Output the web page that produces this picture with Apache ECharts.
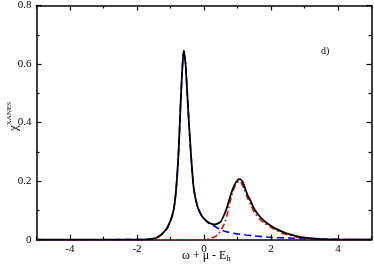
<!DOCTYPE html>
<html>
<head>
<meta charset="utf-8">
<script src="https://cdn.jsdelivr.net/npm/echarts@6/dist/echarts.min.js"></script>
<style>html,body{margin:0;padding:0;background:#fff}#c{width:374px;height:267px}</style>
</head>
<body>
<div id="c"></div>
<script>
// ---- data ----
var totalX = [-5, -3, -2, -1.7, -1.5, -1.4, -1.3, -1.2, -1.1, -1.0, -0.95, -0.9, -0.85, -0.8, -0.75, -0.7, -0.65, -0.62, -0.6, -0.58, -0.55, -0.5, -0.45, -0.4, -0.35, -0.3, -0.2, -0.1, 0, 0.15, 0.33, 0.5, 0.62, 0.7, 0.81, 0.9, 1.0, 1.07, 1.15, 1.25, 1.31, 1.4, 1.51, 1.66, 1.8, 1.96, 2.15, 2.35, 2.6, 2.85, 3.15, 3.5, 4, 5];
var totalY = [0, 0, 0.0003, 0.001, 0.004, 0.008, 0.015, 0.026, 0.04, 0.065, 0.082, 0.105, 0.15, 0.22, 0.32, 0.46, 0.58, 0.63, 0.645, 0.63, 0.6, 0.5, 0.4, 0.31, 0.23, 0.17, 0.115, 0.088, 0.072, 0.058, 0.052, 0.062, 0.09, 0.115, 0.158, 0.185, 0.203, 0.207, 0.198, 0.168, 0.15, 0.13, 0.103, 0.08, 0.064, 0.05, 0.037, 0.027, 0.017, 0.010, 0.005, 0.002, 0.0005, 0];

var lowX = [-5, -3, -2, -1.7, -1.5, -1.4, -1.3, -1.2, -1.1, -1.0, -0.95, -0.9, -0.85, -0.8, -0.75, -0.7, -0.65, -0.62, -0.6, -0.58, -0.55, -0.5, -0.45, -0.4, -0.35, -0.3, -0.2, -0.1, 0, 0.15, 0.33, 0.5, 0.75, 1.0, 1.25, 1.5, 2.0, 2.5, 3.0, 3.5, 4, 5];
var lowY = [0, 0, 0.0003, 0.001, 0.004, 0.008, 0.015, 0.026, 0.04, 0.065, 0.082, 0.105, 0.15, 0.22, 0.32, 0.46, 0.58, 0.63, 0.645, 0.63, 0.6, 0.5, 0.4, 0.31, 0.23, 0.17, 0.115, 0.088, 0.072, 0.055, 0.045, 0.034, 0.025, 0.02, 0.016, 0.013, 0.008, 0.006, 0.004, 0.002, 0.001, 0];

var highX = [-5, 0, 0.1, 0.2, 0.33, 0.42, 0.5, 0.62, 0.7, 0.77, 0.85, 0.95, 1.05, 1.1, 1.2, 1.3, 1.4, 1.5, 1.66, 1.8, 2.0, 2.35, 2.85, 3.15, 3.5, 5];
var highY = [0, 0, 0.002, 0.005, 0.01, 0.018, 0.03, 0.058, 0.09, 0.126, 0.16, 0.19, 0.2, 0.197, 0.172, 0.142, 0.118, 0.094, 0.071, 0.057, 0.042, 0.021, 0.007, 0.003, 0.001, 0];

var xMajorTicks = [-4, -2, 0, 2, 4];
var xMinorTicks = [-5, -3, -1, 1, 3, 5];
var xTitle = 'ω + μ - E{sub|h}';
var yTitle = 'χ{sup|XANES}';
var panelLabel = 'd)';

function pairs(xs, ys) { return xs.map(function (x, i) { return [x, ys[i]]; }); }

var FONT = 'Liberation Serif';
var chart = echarts.init(document.getElementById('c'), null, { renderer: 'canvas' });

function xAx(pos, ticks, len, line, labels) {
  return {
    type: 'value', min: -5, max: 5, position: pos, gridIndex: 0,
    axisLine: { show: line, onZero: false, lineStyle: { color: '#000', width: 1.5 } },
    axisTick: { show: true, inside: true, length: len, customValues: ticks, lineStyle: { color: '#000', width: 1.2 } },
    axisLabel: { show: labels, customValues: ticks, fontFamily: FONT, fontSize: 11, color: '#000', margin: 4 },
    splitLine: { show: false }
  };
}
function yAx(pos, labels) {
  return {
    type: 'value', min: 0, max: 0.8, interval: 0.2, position: pos, gridIndex: 0,
    axisLine: { show: true, onZero: false, lineStyle: { color: '#000', width: 1.5 } },
    axisTick: { show: true, inside: true, length: 5, lineStyle: { color: '#000', width: 1.2 } },
    minorTick: { show: true, splitNumber: 2, length: 3, lineStyle: { color: '#000', width: 1.2 } },
    axisLabel: { show: labels, fontFamily: FONT, fontSize: 11, color: '#000', margin: 5 },
    splitLine: { show: false }, minorSplitLine: { show: false }
  };
}

chart.setOption({
  animation: false,
  backgroundColor: '#fff',
  grid: { left: 36.5, right: 2.5, top: 5, bottom: 27.3, containLabel: false },
  xAxis: [
    xAx('bottom', xMajorTicks, 5, true, true),
    xAx('bottom', xMinorTicks, 3, false, false),
    xAx('top', xMajorTicks, 5, true, false),
    xAx('top', xMinorTicks, 3, false, false)
  ],
  yAxis: [yAx('left', true), yAx('right', false)],
  series: [
    { type: 'line', data: pairs(lowX, lowY), showSymbol: false, smooth: 0.2, z: 2,
      lineStyle: { color: '#0000ff', width: 1.6, type: [7, 4] } },
    { type: 'line', data: pairs(highX, highY), showSymbol: false, smooth: 0.2, z: 3,
      lineStyle: { color: '#ff0000', width: 1.6, type: [6, 3, 1.5, 3] } },
    { type: 'line', data: pairs(totalX, totalY), showSymbol: false, smooth: 0.2, z: 4,
      lineStyle: { color: '#000', width: 1.8 } }
  ],
  graphic: [
    { type: 'text', left: 182, top: 250, style: { text: xTitle, fontFamily: FONT, fontSize: 12, fill: '#000',
      rich: { sub: { fontSize: 8, fontFamily: FONT, padding: [6, 0, 0, 0] } } } },
    { type: 'text', x: 6, y: 131, rotation: Math.PI / 2, style: { text: yTitle, fontFamily: FONT, fontSize: 13, fill: '#000',
      rich: { sup: { fontSize: 7, fontFamily: FONT, padding: [0, 0, 8, 0] } } } },
    { type: 'text', left: 321, top: 46, style: { text: panelLabel, fontFamily: FONT, fontSize: 10, fill: '#000' } }
  ]
});
</script>
</body>
</html>
